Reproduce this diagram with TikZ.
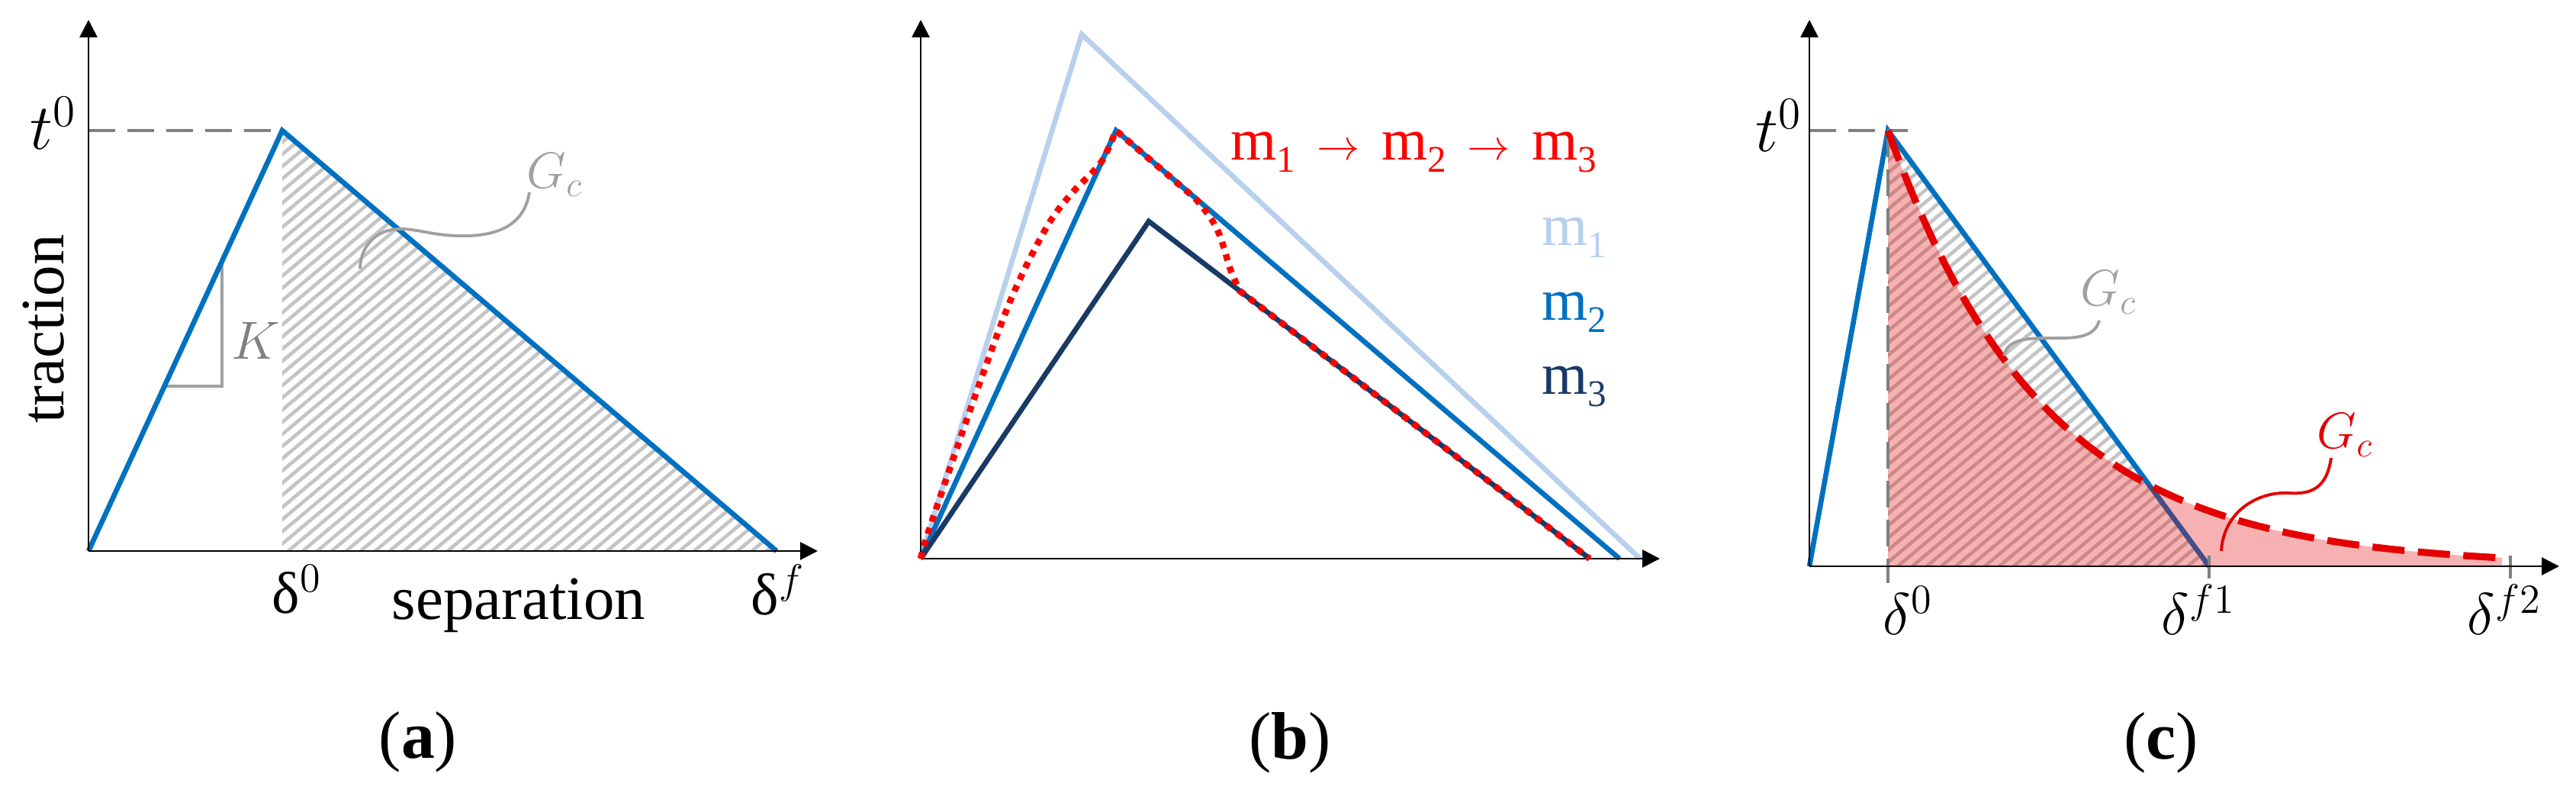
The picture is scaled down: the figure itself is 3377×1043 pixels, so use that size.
\RequirePackage{fix-cm}
\documentclass[tikz,border=0pt]{standalone}
\usepackage{fontspec}
\setmainfont{Liberation Serif}
\usetikzlibrary{arrows.meta}
\definecolor{cblue}{RGB}{0,112,192}
\definecolor{clight}{RGB}{184,208,238}
\definecolor{cnavy}{RGB}{25,58,102}
\definecolor{cred}{RGB}{255,0,0}
\definecolor{cred2}{RGB}{228,0,0}
\definecolor{cgray}{RGB}{128,128,128}
\definecolor{clgray}{RGB}{160,160,160}
\definecolor{chatch}{RGB}{196,196,196}
\newcommand{\mlab}[1]{m\raisebox{-4.5pt}{\fontsize{14}{16}\selectfont #1}}
\newcommand{\marr}{\hspace{8pt}{\fontsize{16}{18}\selectfont$\rightarrow$}\hspace{8pt}}
\begin{document}
\begin{tikzpicture}[x=0.01cm,y=-0.01cm,
  axline/.style={line width=0.8pt,-{Triangle[length=6.5pt,width=6.5pt]}},
  plotline/.style={line width=1.9pt,line join=miter},
  hatchline/.style={chatch,line width=1.3pt},
  guide/.style={cgray,line width=1.1pt,dash pattern=on 10pt off 4.5pt},
  leader/.style={clgray,line width=1.1pt},
  lbl/.style={inner sep=0pt,font=\fontsize{22}{26}\selectfont},
  glbl/.style={inner sep=0pt,font=\fontsize{19}{23}\selectfont},
  word/.style={inner sep=0pt,font=\fontsize{23}{27}\selectfont},
  sublabel/.style={inner sep=0pt,font=\fontsize{25}{29}\selectfont},
  mlbl/.style={inner sep=0pt,font=\fontsize{22}{26}\selectfont,anchor=base west}]
\useasboundingbox (0,0) rectangle (3377,1043);
\fill[white] (0,0) rectangle (3377,1043);

% ================= panel (a)
\coordinate (Oa) at (116,722);
\coordinate (Ya) at (116,26);
\coordinate (Xa) at (1072,722);
\coordinate (Pa) at (370,171);
\coordinate (Da) at (370,722);
\coordinate (Fa) at (1018,722);
\coordinate (Ta) at (116,171);
\begin{scope}
  \clip (Pa) -- (Da) -- (Fa) -- cycle;
  \foreach \xx in {-330,-311,...,1010} \draw[hatchline] (\xx,742) -- ++(766,-643);
\end{scope}
\draw[guide] (Ta) -- (Pa);
\coordinate (K1) at (216,506);
\coordinate (K2) at (291,506);
\coordinate (K3) at (291,342);
\draw[clgray,line width=1.1pt] (K1) -- (K2) -- (K3);
\draw[plotline,cblue] (Oa) -- (Pa) -- (Fa);
\draw[axline] (Oa) -- (Ya);
\draw[axline] (Oa) -- (Xa);
\node[inner sep=0pt,font=\fontsize{24}{28}\selectfont,anchor=base west] (ta) at (39,196) {$t^0$};
\node[word,rotate=90] (trac) at (57,431) {traction};
\node[lbl,anchor=base west] (d0a) at (356,804) {δ$^0$};
\node[word,anchor=base] (sep) at (680,812) {separation};
\node[lbl,anchor=base west] (dfa) at (984,806) {δ$^f$};
\node[inner sep=0pt,font=\fontsize{20}{24}\selectfont,anchor=base west,text=cgray] (Ka) at (303,471) {$K$};
\node[glbl,anchor=base west,text=clgray] (Ga) at (690,247) {$G_c$};
\coordinate (La0) at (694,252);
\coordinate (La1) at (472,352);
\draw[leader] (La0) .. controls (688,290) and (660,308) .. (612,309)
  .. controls (570,310) and (550,300) .. (525,300)
  .. controls (495,300) and (473,320) .. (La1);
\node[sublabel] (la) at (548,972) {(\textbf{a})};

% ================= panel (b)
\coordinate (Ob) at (1207,732);
\coordinate (Yb) at (1207,26);
\coordinate (Xb) at (2176,732);
\coordinate (P1) at (1418,45);
\coordinate (E1) at (2150,732);
\coordinate (P2) at (1463,171);
\coordinate (E2) at (2123,732);
\coordinate (P3) at (1506,290);
\coordinate (E3) at (2084,732);
\draw[plotline,clight] (Ob) -- (P1) -- (E1);
\draw[plotline,cblue] (Ob) -- (P2) -- (E2);
\draw[plotline,cnavy] (Ob) -- (P3) -- (E3);
\draw[axline] (Ob) -- (Yb);
\draw[axline] (Ob) -- (Xb);
\draw[cred,line width=2.4pt,dash pattern=on 2.4pt off 2.4pt]
  plot[smooth,tension=0.55] coordinates {(1207,732) (1216,700) (1250,600) (1285,500) (1322,400) (1352,335) (1380,285) (1408,250) (1432,226) (1447,207) (P2)}
  -- (1567,260)
  plot[smooth,tension=0.6] coordinates {(1567,260) (1586,284) (1598,306) (1606,330) (1613,353) (1625,381)}
  -- (E3);
\node[mlbl,text=cred] (mseq) at (1613,210) {\mlab{1}\marr\mlab{2}\marr\mlab{3}};
\node[mlbl,text=clight] (m1) at (2021,322) {\mlab{1}};
\node[mlbl,text=cblue] (m2) at (2021,420) {\mlab{2}};
\node[mlbl,text=cnavy] (m3) at (2021,517) {\mlab{3}};
\node[sublabel] (lb) at (1691,973) {(\textbf{b})};

% ================= panel (c)
\coordinate (Oc) at (2372,742);
\coordinate (Yc) at (2372,26);
\coordinate (Xc) at (3355,742);
\coordinate (Pc) at (2475,171);
\coordinate (Dc) at (2475,742);
\coordinate (Fc) at (2896,742);
\coordinate (Ec) at (3280,742);
\begin{scope}
  \clip (Pc) -- (Dc) -- (Fc) -- cycle;
  \foreach \xx in {1780,1799,...,2900} \draw[hatchline] (\xx,762) -- ++(766,-643);
\end{scope}
\draw[plotline,cblue] (Oc) -- (Pc) -- (Fc);
\fill[cred2,opacity=0.3] (Dc) -- plot[domain=0:805,samples=120] ({2475+\x},{742-571*exp(-\x/204)}) -- (Ec) -- cycle;
\draw[guide] (Pc) -- (2475,764);
\draw[guide] (2372,171) -- (2501,171);
\draw[cgray,line width=1.1pt] (2896,728) -- (2896,758);
\draw[cgray,line width=1.1pt] (3291,728) -- (3291,758);
\draw[cred2,line width=2.6pt,dash pattern=on 12pt off 5pt]
  plot[domain=0:805,samples=120] ({2475+\x},{742-571*exp(-\x/204)});
\draw[axline] (Oc) -- (Yc);
\draw[axline] (Oc) -- (Xc);
\node[inner sep=0pt,font=\fontsize{24}{28}\selectfont,anchor=base west] (tc) at (2301,199) {$t^0$};
\node[lbl,anchor=base west] (d0c) at (2468,832) {$\delta^0$};
\node[lbl,anchor=base west] (df1) at (2833,832) {$\delta^{f1}$};
\node[lbl,anchor=base west] (df2) at (3234,832) {$\delta^{f2}$};
\node[glbl,anchor=base west,text=clgray] (Gc1) at (2727,401) {$G_c$};
\node[glbl,anchor=base west,text=cred2] (Gc2) at (3037,588) {$G_c$};
\coordinate (Lc0) at (2752,420);
\coordinate (Lc1) at (2627,466);
\draw[leader] (Lc0) .. controls (2745,445) and (2715,443) .. (2685,443)
  .. controls (2655,443) and (2632,445) .. (Lc1);
\coordinate (Lr0) at (3056,600);
\coordinate (Lr1) at (2912,722);
\draw[cred2,line width=1.1pt] (Lr0) .. controls (3050,640) and (3030,648) .. (3000,646)
  .. controls (2960,644) and (2915,670) .. (Lr1);
\node[sublabel] (lc) at (2833,973) {(\textbf{c})};
\end{tikzpicture}
\end{document}
